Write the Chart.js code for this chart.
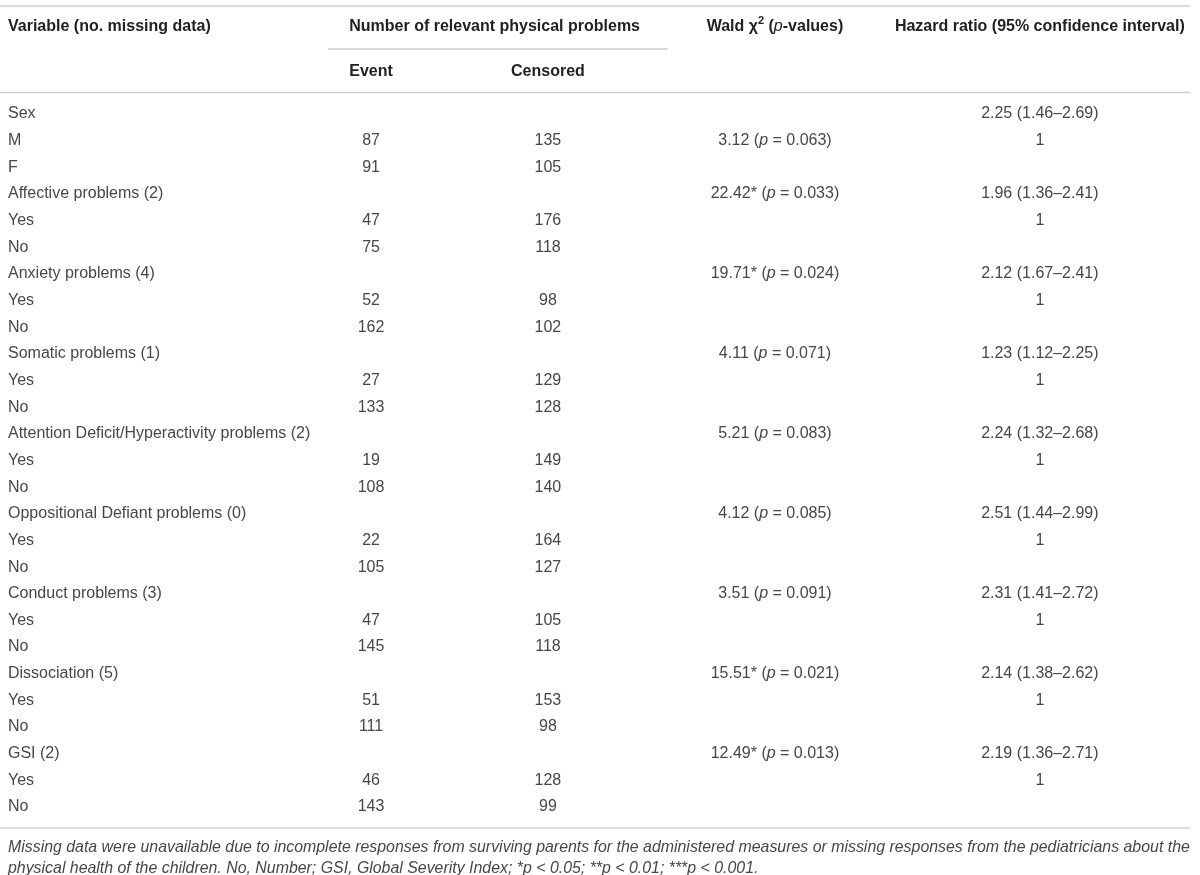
<!DOCTYPE html>
<html>
<head>
<meta charset="utf-8">
<title>Cox regression table</title>
<script src="https://cdn.jsdelivr.net/npm/chart.js@4.4.1/dist/chart.umd.min.js"></script>
<style>
  html, body { margin: 0; padding: 0; background: #fff; }
  #wrap { width: 1200px; height: 875px; }
</style>
</head>
<body>
<div id="wrap"><canvas id="table"></canvas></div>
<script>
// Table content
const rowLabels = [
    'Sex', 'M', 'F',
    'Affective problems (2)', 'Yes', 'No',
    'Anxiety problems (4)', 'Yes', 'No',
    'Somatic problems (1)', 'Yes', 'No',
    'Attention Deficit/Hyperactivity problems (2)', 'Yes', 'No',
    'Oppositional Defiant problems (0)', 'Yes', 'No',
    'Conduct problems (3)', 'Yes', 'No',
    'Dissociation (5)', 'Yes', 'No',
    'GSI (2)', 'Yes', 'No'
];
const eventCounts = [null, 87, 91, null, 47, 75, null, 52, 162, null, 27, 133, null, 19, 108, null, 22, 105, null, 47, 145, null, 51, 111, null, 46, 143];
const censoredCounts = [null, 135, 105, null, 176, 118, null, 98, 102, null, 129, 128, null, 149, 140, null, 164, 127, null, 105, 118, null, 153, 98, null, 128, 99];
const waldChi = [null, 3.12, null, 22.42, null, null, 19.71, null, null, 4.11, null, null, 5.21, null, null, 4.12, null, null, 3.51, null, null, 15.51, null, null, 12.49, null, null];
const waldP = [null, 0.063, null, 0.033, null, null, 0.024, null, null, 0.071, null, null, 0.083, null, null, 0.085, null, null, 0.091, null, null, 0.021, null, null, 0.013, null, null];
const hazardRatio = [2.25, 1, null, 1.96, 1, null, 2.12, 1, null, 1.23, 1, null, 2.24, 1, null, 2.51, 1, null, 2.31, 1, null, 2.14, 1, null, 2.19, 1, null];
const hazardLow = [1.46, null, null, 1.36, null, null, 1.67, null, null, 1.12, null, null, 1.32, null, null, 1.44, null, null, 1.41, null, null, 1.38, null, null, 1.36, null, null];
const hazardHigh = [2.69, null, null, 2.41, null, null, 2.41, null, null, 2.25, null, null, 2.68, null, null, 2.99, null, null, 2.72, null, null, 2.62, null, null, 2.71, null, null];

const variableTitle = 'Variable (no. missing data)';
const groupTitle = 'Number of relevant physical problems';
const eventTitle = 'Event';
const censoredTitle = 'Censored';
const hazardTitle = 'Hazard ratio (95% confidence interval)';
const footnoteLines = [
    'Missing data were unavailable due to incomplete responses from surviving parents for the administered measures or missing responses from the pediatricians about the',
    'physical health of the children. No, Number; GSI, Global Severity Index; *p < 0.05; **p < 0.01; ***p < 0.001.'
];

// Layout (x in 0..1 of the plot area, y in canvas pixels)
const FONT = "'Liberation Sans', Arial, sans-serif";
const COL_X = { event: 0.058, censored: 0.259, wald: 0.517, hazard: 0.818 };
const SPAN_RULE = [0.009, 0.395];
const RULE_END = 0.989;
const HEAD_Y = { topRule: 6, title: 27, spanRule: 49, sub: 72, headRule: 92.5 };
const TEXT_COLOR = '#474747';
const HEAD_COLOR = '#222';
const RULE_COLOR = '#cfcfcf';

function cells(values, key, format) {
    const out = [];
    values.forEach((v, i) => {
        if (v !== null) out.push({ x: COL_X[key], y: i, runs: format(v, i) });
    });
    return out;
}

const plain = t => [{ t: t }];

const datasets = [
    { label: 'Event', data: cells(eventCounts, 'event', v => plain(String(v))) },
    { label: 'Censored', data: cells(censoredCounts, 'censored', v => plain(String(v))) },
    {
        label: 'Wald',
        data: cells(waldChi, 'wald', (v, i) => [
            { t: v.toFixed(2) + (waldP[i] < 0.05 ? '*' : '') + ' (' },
            { t: 'p', italic: true },
            { t: ' = ' + waldP[i].toFixed(3) + ')' }
        ])
    },
    {
        label: 'Hazard',
        data: cells(hazardRatio, 'hazard', (v, i) =>
            hazardLow[i] === null ? plain(String(v))
                : plain(v.toFixed(2) + ' (' + hazardLow[i].toFixed(2) + '\u2013' + hazardHigh[i].toFixed(2) + ')'))
    }
];

function fontOf(r, size) {
    return (r.italic ? 'italic ' : '') + (r.bold ? 'bold ' : '') + (r.sup ? 11 : size) + 'px ' + FONT;
}

function drawRuns(ctx, runs, x, y, align, size) {
    let total = 0;
    const widths = runs.map(r => {
        ctx.font = fontOf(r, size);
        const w = ctx.measureText(r.t).width;
        total += w;
        return w;
    });
    let cx = align === 'center' ? x - total / 2 : x;
    runs.forEach((r, k) => {
        ctx.font = fontOf(r, size);
        ctx.fillText(r.t, cx, r.sup ? y - 6 : y);
        cx += widths[k];
    });
    return { left: align === 'center' ? x - total / 2 : x, width: total };
}

function rule(ctx, x1, x2, y) {
    ctx.beginPath();
    ctx.moveTo(x1, y);
    ctx.lineTo(x2, y);
    ctx.stroke();
}

const tablePlugin = {
    id: 'tablePlugin',
    afterDraw(chart) {
        const { ctx, chartArea } = chart;
        const xs = chart.scales.x;
        ctx.save();
        ctx.textBaseline = 'middle';
        ctx.textAlign = 'left';

        // cells
        ctx.fillStyle = TEXT_COLOR;
        chart.data.datasets.forEach((ds, d) => {
            const meta = chart.getDatasetMeta(d);
            meta.data.forEach((pt, j) => drawRuns(ctx, ds.data[j].runs, pt.x, pt.y, 'center', 16));
        });

        // header
        ctx.fillStyle = HEAD_COLOR;
        drawRuns(ctx, [{ t: variableTitle, bold: true }], 8, HEAD_Y.title, 'left', 16);
        const ev = drawRuns(ctx, [{ t: eventTitle, bold: true }], xs.getPixelForValue(COL_X.event), HEAD_Y.sub, 'center', 16);
        drawRuns(ctx, [{ t: censoredTitle, bold: true }], xs.getPixelForValue(COL_X.censored), HEAD_Y.sub, 'center', 16);
        drawRuns(ctx, [{ t: groupTitle, bold: true }], ev.left, HEAD_Y.title, 'left', 16);
        drawRuns(ctx, [
            { t: 'Wald \u03c7', bold: true },
            { t: '2', bold: true, sup: true },
            { t: ' (', bold: true },
            { t: 'p', italic: true },
            { t: '-values)', bold: true }
        ], xs.getPixelForValue(COL_X.wald), HEAD_Y.title, 'center', 16);
        drawRuns(ctx, [{ t: hazardTitle, bold: true }], xs.getPixelForValue(COL_X.hazard), HEAD_Y.title, 'center', 16);

        // rules
        const right = xs.getPixelForValue(RULE_END);
        ctx.strokeStyle = RULE_COLOR;
        ctx.lineWidth = 1.5;
        rule(ctx, 0, right, HEAD_Y.topRule);
        rule(ctx, xs.getPixelForValue(SPAN_RULE[0]), xs.getPixelForValue(SPAN_RULE[1]), HEAD_Y.spanRule);
        rule(ctx, 0, right, HEAD_Y.headRule);
        rule(ctx, 0, right, chartArea.bottom + 7.7);

        // footnote (last line runs off the bottom edge, as in the source)
        ctx.fillStyle = TEXT_COLOR;
        footnoteLines.forEach((line, k) => {
            drawRuns(ctx, [{ t: line, italic: true }], 8, chartArea.bottom + 27.5 + k * 20.5, 'left', 15.9);
        });
        ctx.restore();
    }
};

new Chart(document.getElementById('table'), {
    type: 'scatter',
    data: { labels: rowLabels, datasets: datasets },
    options: {
        responsive: true,
        maintainAspectRatio: false,
        animation: false,
        events: [],
        // y holds row indices directly, so skip label lookup
        parsing: false,
        layout: { padding: { left: 8, top: 100.7, right: 0, bottom: 54.7 } },
        elements: { point: { radius: 0, hoverRadius: 0 } },
        plugins: {
            legend: { display: false },
            tooltip: { enabled: false }
        },
        scales: {
            x: { type: 'linear', min: 0, max: 1, display: false },
            y: {
                type: 'category',
                labels: rowLabels,
                offset: true,
                grid: { display: false },
                border: { display: false },
                ticks: {
                    autoSkip: false,
                    crossAlign: 'far',
                    padding: 0,
                    color: TEXT_COLOR,
                    font: { family: FONT, size: 16 }
                },
                afterFit(scale) { scale.width = 312; }
            }
        }
    },
    plugins: [tablePlugin]
});
</script>
</body>
</html>
